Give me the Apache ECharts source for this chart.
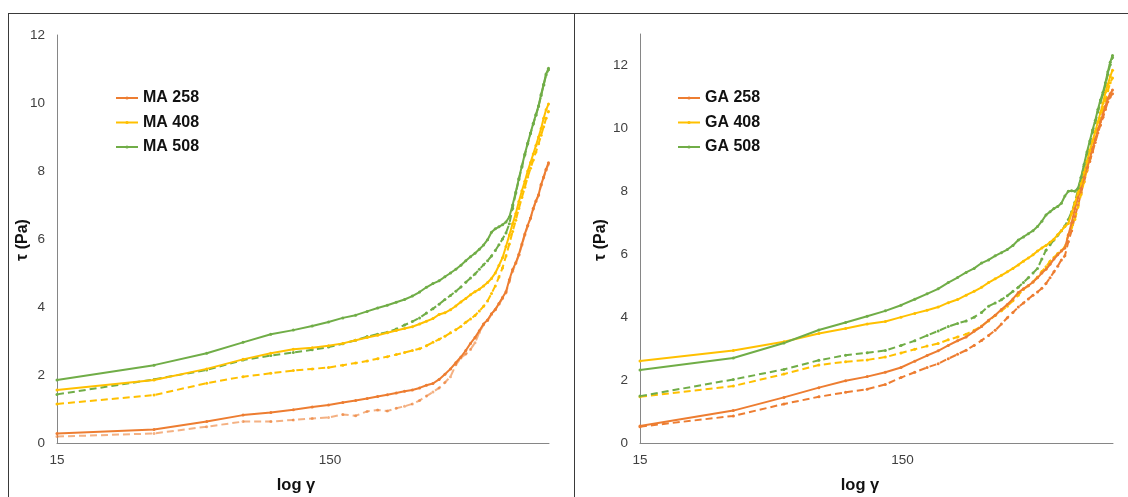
<!DOCTYPE html>
<html><head><meta charset="utf-8">
<script src="https://cdn.jsdelivr.net/npm/echarts@6/dist/echarts.min.js"></script>
<style>html,body{margin:0;padding:0;background:#fff}#c{width:1128px;height:497px}</style>
</head><body><div id="c"></div>
<script>
const shearRate = [15,34,53,72,91,110,129,148,167,186,205,224,243,262,281,300,319,338,357,376,395,414,433,452,471,490,509,528,547,566,585,604,623,642,661,680,699,718,737,756,775,794,813,832,851,870,889,908,927,946];

const xTickLabels = [15, 150];
const yTickLeft = [0, 2, 4, 6, 8, 10, 12];
const yTickRight = [0, 2, 4, 6, 8, 10, 12];

const legendLeft = ['MA 258', 'MA 408', 'MA 508'];
const legendRight = ['GA 258', 'GA 408', 'GA 508'];

// Left panel (MA)
const ma258 = [0.28,0.40,0.63,0.82,0.90,0.98,1.06,1.12,1.19,1.25, 1.31,1.37,1.42,1.47,1.52,1.56,1.62,1.70,1.75,1.87, 2.02,2.18,2.36,2.53,2.72,2.93,3.10,3.30,3.50,3.62, 3.80,3.93,4.10,4.28,4.45,4.80,5.10,5.30,5.55,5.85, 6.15,6.40,6.62,6.90,7.12,7.30,7.60,7.82,8.05,8.24];
const ma258b = [0.19,0.28,0.48,0.63,0.63,0.68,0.72,0.75,0.84,0.80, 0.93,0.97,0.94,1.02,1.08,1.15,1.25,1.38,1.50,1.62, 1.78,1.95,2.30,2.50,2.62,2.75,2.95,3.25,3.48,3.60, 3.78,3.92,4.08,4.25,4.42,4.75,5.05,5.28,5.52,5.82, 6.12,6.38,6.60,6.88,7.10,7.28,7.58,7.80,8.02,8.20];
const ma408 = [1.56,1.85,2.18,2.46,2.64,2.76,2.80,2.86,2.93,3.02, 3.10,3.17,3.24,3.31,3.37,3.42,3.50,3.58,3.66,3.78, 3.83,3.92,4.03,4.15,4.25,4.36,4.45,4.52,4.62,4.72, 4.84,5.00,5.22,5.45,5.78,6.12,6.45,6.75,7.10,7.42, 7.70,8.00,8.25,8.50,8.75,9.00,9.25,9.55,9.80,9.97];
const ma408b = [1.15,1.41,1.76,1.95,2.05,2.13,2.18,2.22,2.29,2.35, 2.41,2.48,2.54,2.60,2.66,2.72,2.77,2.86,2.96,3.05, 3.14,3.24,3.33,3.43,3.55,3.65,3.75,3.88,4.02,4.18, 4.40,4.62,4.88,5.15,5.50,5.85,6.22,6.55,6.90,7.22, 7.52,7.82,8.08,8.32,8.56,8.80,9.05,9.30,9.55,9.75];
const ma508 = [1.85,2.29,2.64,2.96,3.20,3.32,3.44,3.56,3.68,3.76, 3.87,3.97,4.05,4.14,4.22,4.32,4.44,4.58,4.69,4.77, 4.89,5.00,5.11,5.23,5.36,5.48,5.58,5.70,5.82,5.98, 6.20,6.30,6.36,6.42,6.50,6.65,7.00,7.38,7.78,8.15, 8.50,8.82,9.12,9.40,9.66,9.92,10.25,10.55,10.85,11.02];
const ma508b = [1.43,1.87,2.15,2.44,2.57,2.66,2.74,2.82,2.92,3.02, 3.13,3.20,3.26,3.35,3.47,3.57,3.68,3.82,3.95,4.08, 4.22,4.34,4.46,4.59,4.73,4.85,4.97,5.11,5.24,5.36, 5.50,5.66,5.83,6.00,6.18,6.45,6.90,7.35,7.75,8.12, 8.48,8.80,9.10,9.38,9.64,9.90,10.22,10.52,10.82,10.98];

// Right panel (GA)
const ga258 = [0.54,1.03,1.45,1.76,1.98,2.11,2.25,2.40,2.60,2.78, 2.93,3.10,3.25,3.37,3.55,3.70,3.90,4.06,4.24,4.40, 4.58,4.78,4.90,5.00,5.12,5.25,5.40,5.52,5.68,5.85, 5.98,6.10,6.20,6.60,7.00,7.45,7.80,8.10,8.45,8.75, 9.05,9.35,9.65,9.95,10.20,10.45,10.70,10.95,11.10,11.22];
const ga258b = [0.52,0.86,1.24,1.47,1.61,1.71,1.86,2.08,2.25,2.40, 2.52,2.68,2.82,2.95,3.10,3.26,3.42,3.58,3.78,3.98, 4.15,4.32,4.45,4.58,4.70,4.80,4.92,5.07,5.25,5.44, 5.62,5.82,5.95,6.40,6.75,7.20,7.55,7.95,8.30,8.65, 8.95,9.25,9.55,9.85,10.10,10.35,10.60,10.85,11.00,11.10];
const ga408 = [2.61,2.94,3.22,3.48,3.64,3.78,3.86,4.00,4.12,4.22, 4.32,4.46,4.56,4.70,4.82,4.95,5.10,5.22,5.33,5.44, 5.55,5.66,5.78,5.88,5.98,6.10,6.20,6.28,6.38,6.48, 6.62,6.75,6.88,6.98,7.30,7.62,7.95,8.25,8.60,8.95, 9.30,9.60,9.90,10.20,10.50,10.80,11.15,11.40,11.65,11.85];
const ga408b = [1.47,1.81,2.19,2.48,2.58,2.64,2.73,2.86,2.98,3.08, 3.16,3.28,3.37,3.46,3.58,3.72,3.88,4.05,4.20,4.35, 4.52,4.70,4.88,5.00,5.12,5.28,5.45,5.60,5.78,5.90, 6.02,6.12,6.23,6.62,6.85,7.10,7.50,7.90,8.30,8.68, 9.05,9.40,9.70,10.00,10.30,10.60,10.90,11.20,11.45,11.60];
const ga508 = [2.32,2.70,3.18,3.59,3.83,4.03,4.20,4.38,4.57,4.74, 4.90,5.10,5.26,5.42,5.55,5.72,5.82,5.95,6.05,6.15, 6.28,6.45,6.55,6.65,6.75,6.88,7.05,7.25,7.35,7.45, 7.52,7.62,7.85,8.00,8.02,8.00,8.10,8.45,8.85,9.25, 9.60,9.95,10.25,10.60,10.90,11.15,11.45,11.80,12.10,12.32];
const ga508b = [1.49,2.02,2.34,2.63,2.79,2.87,2.94,3.10,3.25,3.42, 3.56,3.70,3.80,3.88,4.00,4.15,4.35,4.45,4.55,4.68, 4.82,4.95,5.10,5.25,5.40,5.55,5.85,6.13,6.30,6.45, 6.60,6.75,6.90,7.10,7.35,7.65,8.05,8.42,8.80,9.18, 9.52,9.88,10.18,10.52,10.82,11.08,11.38,11.72,12.02,12.25];

const ORANGE = '#ED7D31', YELLOW = '#FFC000', GREEN = '#70AD47';
const FONT = "'Liberation Sans', Arial, sans-serif";

function pairs(ys) { return shearRate.map((x, i) => [x, ys[i]]); }
function line(name, axis, ys, color, dashed, opacity) {
  return {
    type: 'line', name: name, xAxisIndex: axis, yAxisIndex: axis,
    data: pairs(ys), symbol: 'circle', symbolSize: 3, showSymbol: true,
    lineStyle: { color: color, width: 2, type: dashed ? [7, 4] : 'solid', opacity: opacity },
    itemStyle: { color: color, opacity: opacity },
    emphasis: { disabled: true }, animation: false, z: dashed ? 2 : 3
  };
}

function xAxis(i) {
  return {
    type: 'log', logBase: 10, gridIndex: i, min: 15, max: 950,
    axisLine: { show: true, lineStyle: { color: '#868686', width: 1 } },
    axisTick: { show: false }, splitLine: { show: false }, minorTick: { show: false },
    axisLabel: { customValues: xTickLabels, color: '#404040', fontSize: 13.5, fontFamily: FONT, margin: 10 }
  };
}
function yAxis(i, max, ticks) {
  return {
    type: 'value', gridIndex: i, min: 0, max: max, interval: 2,
    axisLine: { show: true, lineStyle: { color: '#868686', width: 1 } },
    axisTick: { show: false }, splitLine: { show: false },
    axisLabel: { customValues: ticks, color: '#404040', fontSize: 13.5, fontFamily: FONT, margin: 12 }
  };
}
function legend(names, left) {
  return {
    data: names, orient: 'vertical', left: left, top: 90, padding: 0,
    itemWidth: 22, itemHeight: 4, itemGap: 8.5,
    selectedMode: false,
    textStyle: { fontSize: 16, fontWeight: 'bold', color: '#111', fontFamily: FONT, lineHeight: 16 }
  };
}

const chart = echarts.init(document.getElementById('c'), null, { renderer: 'canvas' });
chart.setOption({
  backgroundColor: '#fff',
  animation: false,
  grid: [
    { left: 57, right: 579, top: 35, bottom: 54 },
    { left: 640, right: 15, top: 34, bottom: 54 }
  ],
  xAxis: [xAxis(0), xAxis(1)],
  yAxis: [yAxis(0, 12, yTickLeft), yAxis(1, 13, yTickRight)],
  legend: [legend(legendLeft, 115), legend(legendRight, 677)],
  series: [
    line('MA 258 b', 0, ma258b, ORANGE, true, 0.6),
    line('MA 408 b', 0, ma408b, YELLOW, true, 1),
    line('MA 508 b', 0, ma508b, GREEN, true, 1),
    line('MA 258', 0, ma258, ORANGE, false, 1),
    line('MA 408', 0, ma408, YELLOW, false, 1),
    line('MA 508', 0, ma508, GREEN, false, 1),
    line('GA 258 b', 1, ga258b, ORANGE, true, 1),
    line('GA 408 b', 1, ga408b, YELLOW, true, 1),
    line('GA 508 b', 1, ga508b, GREEN, true, 1),
    line('GA 258', 1, ga258, ORANGE, false, 1),
    line('GA 408', 1, ga408, YELLOW, false, 1),
    line('GA 508', 1, ga508, GREEN, false, 1)
  ],
  graphic: [
    { type: 'line', shape: { x1: 8, y1: 13.5, x2: 1128, y2: 13.5 }, style: { stroke: '#3a3a3a', lineWidth: 1 } },
    { type: 'line', shape: { x1: 8.5, y1: 13, x2: 8.5, y2: 497 }, style: { stroke: '#3a3a3a', lineWidth: 1 } },
    { type: 'line', shape: { x1: 574.5, y1: 13, x2: 574.5, y2: 497 }, style: { stroke: '#3a3a3a', lineWidth: 1 } },
    { type: 'text', x: 23, y: 240, rotation: Math.PI / 2,
      style: { text: 'τ (Pa)', fontSize: 16, fontWeight: 'bold', fill: '#111', fontFamily: FONT, align: 'center', verticalAlign: 'middle' } },
    { type: 'text', x: 601, y: 240, rotation: Math.PI / 2,
      style: { text: 'τ (Pa)', fontSize: 16, fontWeight: 'bold', fill: '#111', fontFamily: FONT, align: 'center', verticalAlign: 'middle' } },
    { type: 'text', x: 296, y: 485,
      style: { text: 'log γ', fontSize: 16.5, fontWeight: 'bold', fill: '#111', fontFamily: FONT, align: 'center', verticalAlign: 'middle' } },
    { type: 'text', x: 860, y: 485,
      style: { text: 'log γ', fontSize: 16.5, fontWeight: 'bold', fill: '#111', fontFamily: FONT, align: 'center', verticalAlign: 'middle' } }
  ]
});
</script>
</body></html>
